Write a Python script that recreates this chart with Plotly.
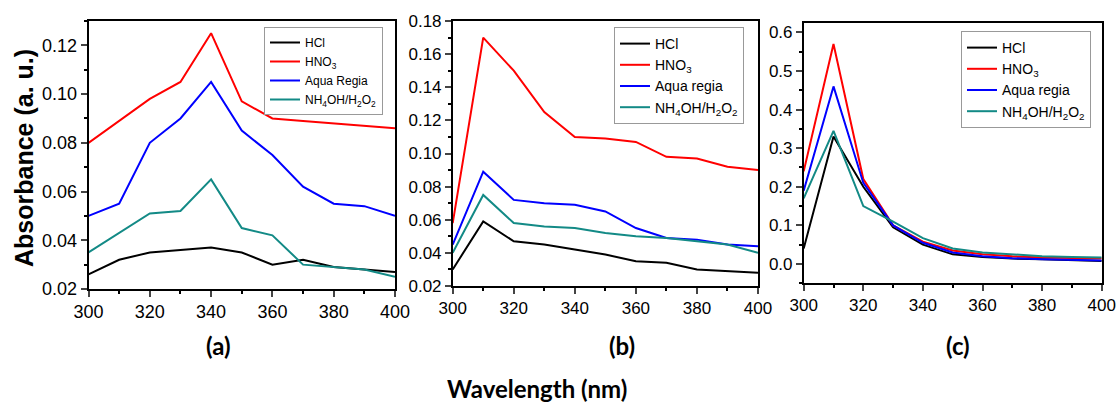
import plotly.graph_objects as go

wavelength = [300, 310, 320, 330, 340, 350, 360, 370, 380, 390, 400]
series_names = ["HCl", "HNO<sub>3</sub>", "Aqua Regia", "NH<sub>4</sub>OH/H<sub>2</sub>O<sub>2</sub>"]
series_names_bc = ["HCl", "HNO<sub>3</sub>", "Aqua regia", "NH<sub>4</sub>OH/H<sub>2</sub>O<sub>2</sub>"]
colors = ["#000000", "#ff0000", "#0000ff", "#138a86"]

# Panel (a)
a_hcl = [0.026, 0.032, 0.035, 0.036, 0.037, 0.035, 0.030, 0.032, 0.029, 0.028, 0.027]
a_hno3 = [0.080, 0.089, 0.098, 0.105, 0.125, 0.097, 0.090, 0.089, 0.088, 0.087, 0.086]
a_aqua = [0.050, 0.055, 0.080, 0.090, 0.105, 0.085, 0.075, 0.062, 0.055, 0.054, 0.050]
a_nh4 = [0.035, 0.043, 0.051, 0.052, 0.065, 0.045, 0.042, 0.030, 0.029, 0.028, 0.025]

# Panel (b)
b_hcl = [0.030, 0.059, 0.047, 0.045, 0.042, 0.039, 0.035, 0.034, 0.030, 0.029, 0.028]
b_hno3 = [0.058, 0.170, 0.150, 0.125, 0.110, 0.109, 0.107, 0.098, 0.097, 0.092, 0.090]
b_aqua = [0.045, 0.089, 0.072, 0.070, 0.069, 0.065, 0.055, 0.049, 0.048, 0.045, 0.044]
b_nh4 = [0.040, 0.075, 0.058, 0.056, 0.055, 0.052, 0.050, 0.049, 0.047, 0.045, 0.040]

# Panel (c)
c_hcl = [0.040, 0.330, 0.200, 0.095, 0.050, 0.025, 0.018, 0.014, 0.012, 0.010, 0.008]
c_hno3 = [0.240, 0.570, 0.220, 0.100, 0.058, 0.035, 0.025, 0.020, 0.017, 0.015, 0.014]
c_aqua = [0.190, 0.460, 0.210, 0.100, 0.055, 0.030, 0.020, 0.015, 0.012, 0.010, 0.009]
c_nh4 = [0.170, 0.345, 0.150, 0.110, 0.067, 0.040, 0.030, 0.025, 0.020, 0.018, 0.017]

panel_labels = ["(a)", "(b)", "(c)"]
x_title = "Wavelength (nm)"
y_title = "Absorbance (a. u.)"

fig = go.Figure()

panels = [
    ([a_hcl, a_hno3, a_aqua, a_nh4], series_names, "x", "y", "legend"),
    ([b_hcl, b_hno3, b_aqua, b_nh4], series_names_bc, "x2", "y2", "legend2"),
    ([c_hcl, c_hno3, c_aqua, c_nh4], series_names_bc, "x3", "y3", "legend3"),
]
for data, names, xa, ya, lg in panels:
    for vals, name, col in zip(data, names, colors):
        fig.add_trace(go.Scatter(x=wavelength, y=vals, name=name, mode="lines",
                                 line=dict(color=col, width=2), xaxis=xa, yaxis=ya,
                                 legend=lg))

FONT = "Arial"
def tfont(size):
    return dict(family=FONT, size=size, color="black")

def xaxis(domain, anchor, fs):
    return dict(domain=domain, anchor=anchor, range=[300, 400], dtick=20, tick0=300,
                ticks="outside", ticklen=6, tickwidth=1.5, showline=True, linewidth=1.5,
                linecolor="black", mirror=True, showgrid=False, zeroline=False,
                tickfont=tfont(fs), automargin=False,
                minor=dict(ticks="outside", ticklen=3, dtick=10, tickcolor="black"))

def yaxis(domain, anchor, rng, dtick, mdtick, fmt, tick0, fs):
    return dict(domain=domain, anchor=anchor, range=rng, dtick=dtick, tick0=tick0,
                tickformat=fmt, ticks="outside", ticklen=6, tickwidth=1.5,
                showline=True, linewidth=1.5, linecolor="black", mirror=True,
                showgrid=False, zeroline=False, tickfont=tfont(fs), automargin=False,
                minor=dict(ticks="outside", ticklen=3, dtick=mdtick, tickcolor="black"))

W, H = 1120, 403
def px(x0, x1):
    return [x0 / W, x1 / W]
def py(top, bottom):
    return [1 - bottom / H, 1 - top / H]

def legend_at(x, y, fs):
    return dict(x=x / W, y=1 - y / H, bgcolor="white", bordercolor="#999999", borderwidth=1,
                xanchor="left", yanchor="top", tracegroupgap=0, itemwidth=30,
                font=tfont(fs))

fig.update_layout(
    width=W, height=H,
    template="none",
    margin=dict(l=0, r=0, t=0, b=0, autoexpand=False),
    paper_bgcolor="white", plot_bgcolor="white",
    xaxis=xaxis(px(88.5, 395), "y", 18),
    yaxis=yaxis(py(21, 289), "x", [0.02, 0.13], 0.02, 0.01, ".2f", 0.02, 18),
    xaxis2=xaxis(px(452.7, 758), "y2", 17),
    yaxis2=yaxis(py(21, 286), "x2", [0.02, 0.18], 0.02, 0.01, ".2f", 0.02, 17),
    xaxis3=xaxis(px(803.7, 1101.7), "y3", 17),
    yaxis3=yaxis(py(22.7, 283.3), "x3", [-0.05, 0.625], 0.1, 0.05, ".1f", 0.0, 17),
    legend=legend_at(264, 27, 12),
    legend2=legend_at(614, 27, 14),
    legend3=legend_at(961, 31, 14),
    showlegend=True,
)

label_font = dict(family="Lato", size=24, color="black")
for lbl, xc in zip(panel_labels, [218, 622, 958]):
    fig.add_annotation(text="<b>" + lbl + "</b>", x=xc / W, y=1 - 345 / H, xref="paper", yref="paper",
                       showarrow=False, font=label_font, xanchor="center", yanchor="middle")
fig.add_annotation(text="<b>" + x_title + "</b>", x=537 / W, y=1 - 388 / H, xref="paper", yref="paper",
                   showarrow=False, font=dict(family="Lato", size=24, color="black"),
                   xanchor="center", yanchor="middle")
fig.add_annotation(text="<b>" + y_title + "</b>", x=24 / W, y=1 - 158 / H, xref="paper", yref="paper",
                   showarrow=False, textangle=-90,
                   font=dict(family=FONT, size=25, color="black"),
                   xanchor="center", yanchor="middle")

fig.write_html("out.html", config={"displayModeBar": False})

# remove the default page margin so the figure sits at the window's top-left corner
with open("out.html", "r", encoding="utf-8") as f:
    html = f.read()
html = html.replace("<head>", "<head><style>html,body{margin:0;padding:0;overflow:hidden;}</style>", 1)
with open("out.html", "w", encoding="utf-8") as f:
    f.write(html)
